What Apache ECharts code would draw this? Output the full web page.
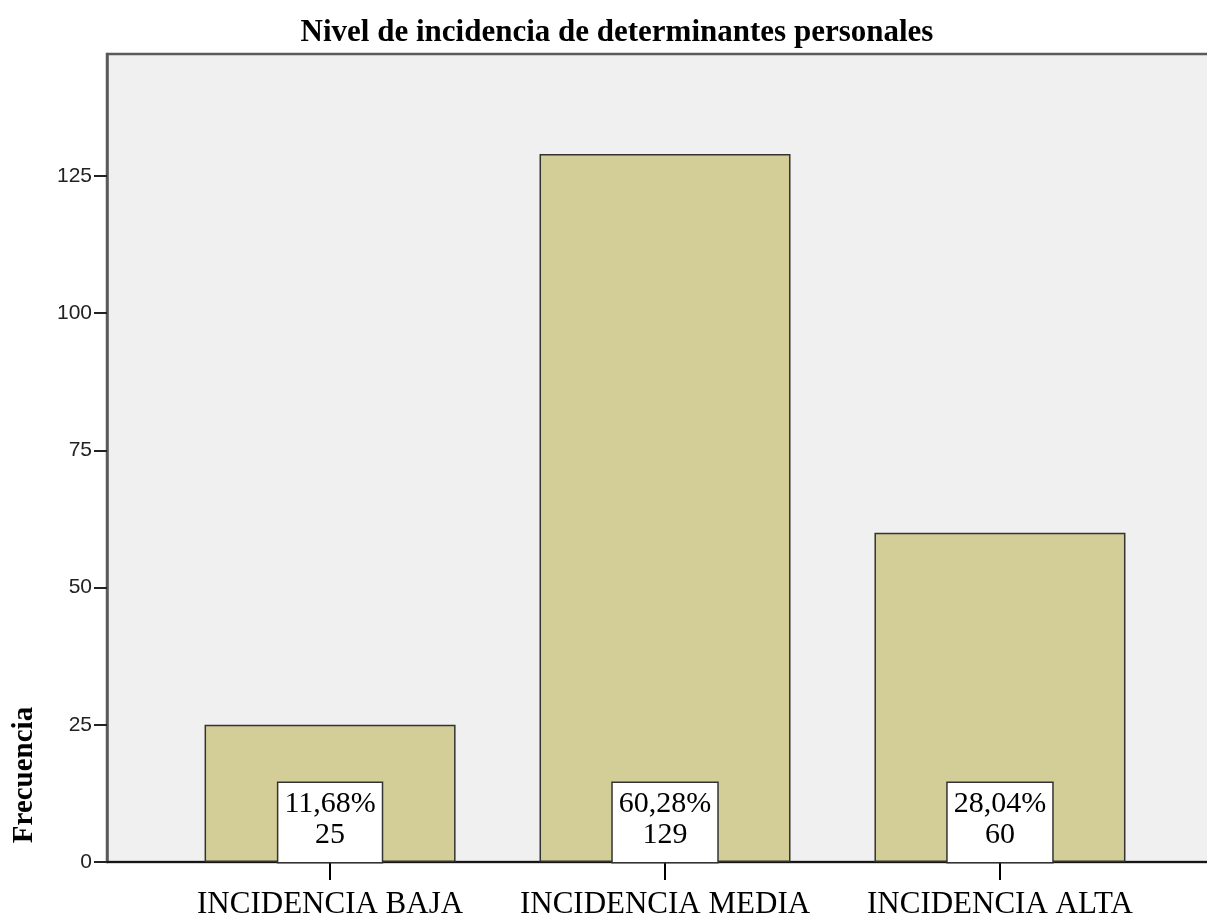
<!DOCTYPE html>
<html>
<head>
<meta charset="utf-8">
<script src="https://cdn.jsdelivr.net/npm/echarts@6/dist/echarts.min.js"></script>
<style>
  html, body { margin: 0; padding: 0; background: #fff; }
  #chart { width: 1207px; height: 915px; }
</style>
</head>
<body>
<div id="chart"></div>
<script>
const categories = ['INCIDENCIA BAJA', 'INCIDENCIA MEDIA', 'INCIDENCIA ALTA']
const counts = [25, 129, 60]
const percents = ['11,68%', '60,28%', '28,04%']
const yTicks = [0, 25, 50, 75, 100, 125]
const catPos = [1, 2, 3]

const chart = echarts.init(document.getElementById('chart'))

const option = {
  animation: false,
  title: {
    text: 'Nivel de incidencia de determinantes personales',
    left: 612,
    textAlign: 'center',
    top: 12,
    textStyle: {
      fontFamily: 'Liberation Serif',
      fontWeight: 'bold',
      fontSize: 31,
      color: '#000'
    }
  },
  grid: {
    left: 107,
    right: -8,
    top: 54,
    bottom: 53,
    outerBoundsMode: 'none',
    containLabel: false,
    show: true,
    backgroundColor: '#f0f0f0',
    borderColor: '#5a5a5a',
    borderWidth: 2.5
  },
  xAxis: {
    type: 'value',
    min: 0.334,
    max: 3.642,
    splitLine: { show: false },
    axisLine: { show: true, lineStyle: { color: '#000', width: 1.5 } },
    axisTick: {
      show: true,
      customValues: catPos,
      length: 18,
      lineStyle: { color: '#000', width: 2 }
    },
    axisLabel: {
      customValues: catPos,
      formatter: v => categories[Math.round(v) - 1],
      margin: 27,
      fontFamily: 'Liberation Serif',
      fontSize: 31,
      color: '#000'
    }
  },
  yAxis: {
    type: 'value',
    min: 0,
    max: 147.2,
    splitLine: { show: false },
    axisLine: { show: true, lineStyle: { color: '#5a5a5a', width: 2.5 } },
    axisTick: {
      show: true,
      customValues: yTicks,
      length: 13,
      lineStyle: { color: '#222', width: 2 }
    },
    axisLabel: {
      customValues: yTicks,
      margin: 15,
      fontFamily: 'Liberation Sans',
      fontSize: 21,
      color: '#222'
    }
  },
  graphic: [{
    type: 'text',
    x: 10,
    y: 775,
    rotation: Math.PI / 2,
    style: {
      text: 'Frecuencia',
      fontFamily: 'Liberation Serif',
      fontWeight: 'bold',
      fontSize: 29,
      fill: '#000',
      align: 'center',
      verticalAlign: 'top'
    }
  }],
  series: [{
    type: 'bar',
    barWidth: 251,
    data: counts.map((c, i) => [catPos[i], c]),
    itemStyle: {
      color: '#d3cd97',
      borderColor: '#333',
      borderWidth: 1.5
    },
    label: {
      show: true,
      position: 'insideBottom',
      distance: 0,
      formatter: p => percents[p.dataIndex] + '\n' + counts[p.dataIndex],
      backgroundColor: '#fff',
      borderColor: '#333',
      borderWidth: 1.5,
      padding: [6, 6, 11, 6],
      fontFamily: 'Liberation Serif',
      fontSize: 30,
      lineHeight: 31,
      color: '#000'
    }
  }]
}

chart.setOption(option)
</script>
</body>
</html>
